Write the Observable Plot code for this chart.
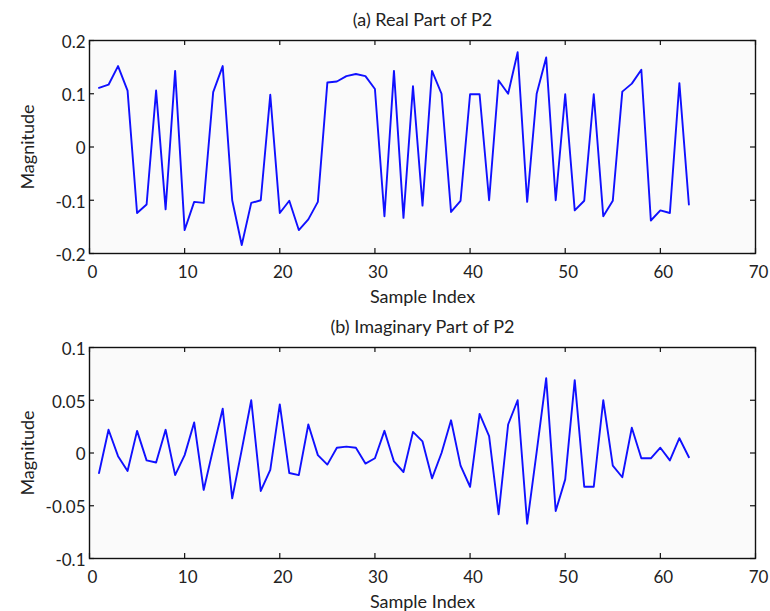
<!DOCTYPE html>
<html>
<head>
<meta charset="utf-8">
<script src="https://cdn.jsdelivr.net/npm/d3@7"></script>
<script src="https://cdn.jsdelivr.net/npm/@observablehq/plot@0.6"></script>
<style>
  html, body { margin: 0; padding: 0; background: #ffffff; }
  svg { display: block; }
</style>
</head>
<body>
<div id="chart"></div>
<script>
// ---- Data ----
const sampleIndex = [1,2,3,4,5,6,7,8,9,10,11,12,13,14,15,16,17,18,19,20,21,22,23,24,25,26,27,28,29,30,31,32,33,34,35,36,37,38,39,40,41,42,43,44,45,46,47,48,49,50,51,52,53,54,55,56,57,58,59,60,61,62,63];

const realPart = [0.111,0.117,0.152,0.106,-0.124,-0.108,0.106,-0.117,0.143,-0.156,
  -0.103,-0.105,0.103,0.152,-0.100,-0.184,-0.105,-0.100,0.098,-0.124,
  -0.101,-0.156,-0.136,-0.103,0.121,0.123,0.133,0.137,0.133,0.109,
  -0.130,0.143,-0.133,0.114,-0.110,0.143,0.100,-0.122,-0.101,0.099,
  0.099,-0.100,0.125,0.100,0.178,-0.103,0.100,0.168,-0.100,0.099,
  -0.119,-0.101,0.099,-0.130,-0.101,0.104,0.119,0.145,-0.138,-0.119,
  -0.124,0.120,-0.108];

const imagPart = [-0.019,0.022,-0.003,-0.017,0.021,-0.007,-0.009,0.022,-0.021,-0.002,
  0.029,-0.035,0.004,0.042,-0.043,0.003,0.050,-0.036,-0.016,0.046,
  -0.019,-0.021,0.027,-0.002,-0.011,0.005,0.006,0.005,-0.010,-0.005,
  0.021,-0.008,-0.018,0.020,0.011,-0.024,0.000,0.031,-0.012,-0.032,
  0.037,0.016,-0.058,0.027,0.050,-0.067,0.001,0.071,-0.055,-0.025,
  0.069,-0.032,-0.032,0.050,-0.012,-0.023,0.024,-0.005,-0.005,0.005,
  -0.007,0.014,-0.004];

const xTicks = [0,10,20,30,40,50,60,70];
const xTickLabels = ["0","10","20","30","40","50","60","70"];
const realYTicks = [-0.2,-0.1,0,0.1,0.2];
const realYTickLabels = ["-0.2","-0.1","0","0.1","0.2"];
const imagYTicks = [-0.1,-0.05,0,0.05,0.1];
const imagYTickLabels = ["-0.1","-0.05","0","0.05","0.1"];

const titles = ["(a) Real Part of P2", "(b) Imaginary Part of P2"];
const xLabel = "Sample Index";
const yLabel = "Magnitude";

// ---- Drawing ----
const FONT = "Lato, 'Open Sans', sans-serif";
const W = 770, ML = 89, MR = 15;
const innerW = W - ML - MR;

function panel({values, yTicks, yTickLabels, title, height, mt, mb, titleDy, xLabDy}) {
  const innerH = height - mt - mb;
  const data = sampleIndex.map((x, i) => ({x, y: values[i]}));
  const yDomain = [yTicks[0], yTicks[yTicks.length - 1]];
  return Plot.plot({
    width: W,
    height,
    marginLeft: ML,
    marginRight: MR,
    marginTop: mt,
    marginBottom: mb,
    style: {fontFamily: FONT, fontSize: "17px", color: "#222", background: "#ffffff"},
    x: {domain: [0, 70]},
    y: {domain: yDomain},
    marks: [
      Plot.frame({fill: "#fafafa", stroke: null}),
      Plot.line(data, {x: "x", y: "y", stroke: "#1010ff", strokeWidth: 1.9}),
      // inward ticks
      Plot.ruleX(xTicks, {x: d => d, insetTop: innerH - 5, stroke: "#111", strokeWidth: 1.2}),
      Plot.ruleX(xTicks, {x: d => d, insetBottom: innerH - 5, stroke: "#111", strokeWidth: 1.2}),
      Plot.ruleY(yTicks, {y: d => d, insetRight: innerW - 5, stroke: "#111", strokeWidth: 1.2}),
      Plot.ruleY(yTicks, {y: d => d, insetLeft: innerW - 5, stroke: "#111", strokeWidth: 1.2}),
      Plot.frame({stroke: "#111", strokeWidth: 1.4}),
      Plot.axisX({ticks: xTicks, tickFormat: (d) => xTickLabels[xTicks.indexOf(d)], tickSize: 0, tickPadding: 12, dx: 3, label: null, fontSize: 17}),
      Plot.axisY({ticks: yTicks, tickFormat: (d) => yTickLabels[yTicks.indexOf(d)], tickSize: 0, tickPadding: 4, dy: 2, label: null, fontSize: 17}),
      Plot.text([title], {frameAnchor: "top", lineAnchor: "middle", textAnchor: "middle", dy: titleDy, fontSize: 18, fill: "#222"}),
      Plot.text([xLabel], {frameAnchor: "bottom", lineAnchor: "middle", textAnchor: "middle", dy: xLabDy, fontSize: 18, fill: "#222"}),
      Plot.text([yLabel], {frameAnchor: "left", lineAnchor: "middle", textAnchor: "middle", dx: -61, rotate: -90, fontSize: 18, fill: "#222"})
    ]
  });
}

const chart = document.getElementById("chart");
chart.append(panel({values: realPart, yTicks: realYTicks, yTickLabels: realYTickLabels, title: titles[0],
  height: 310, mt: 40, mb: 57, titleDy: -20, xLabDy: 44}));
chart.append(panel({values: imagPart, yTicks: imagYTicks, yTickLabels: imagYTickLabels, title: titles[1],
  height: 301, mt: 37, mb: 53, titleDy: -20, xLabDy: 44}));
</script>
</body>
</html>
